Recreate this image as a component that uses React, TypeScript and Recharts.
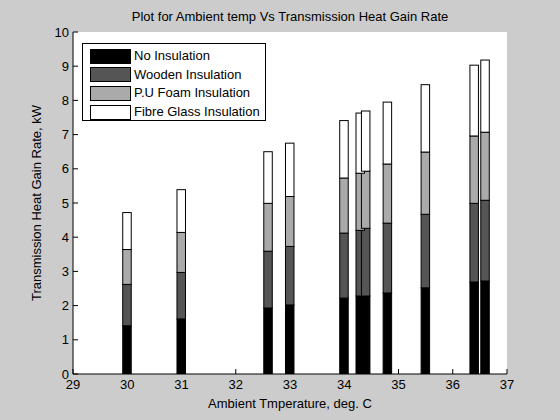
import React from "react"
import { BarChart, Bar, XAxis, YAxis, Label, CartesianGrid } from "recharts"

// ambient temperature, deg C
const temps = [30, 31, 32.6, 33, 34, 34.3, 34.4, 34.8, 35.5, 36.4, 36.6]

// heat gain rate per layer, kW (stacked)
const noInsulation = [1.41, 1.61, 1.93, 2.02, 2.22, 2.28, 2.28, 2.37, 2.52, 2.69, 2.72]
const wooden = [1.21, 1.36, 1.66, 1.71, 1.9, 1.92, 1.98, 2.04, 2.15, 2.3, 2.36]
const puFoam = [1.02, 1.17, 1.4, 1.46, 1.61, 1.67, 1.67, 1.73, 1.82, 1.97, 1.99]
const fibreGlass = [1.08, 1.25, 1.51, 1.56, 1.68, 1.76, 1.76, 1.81, 1.97, 2.07, 2.11]

const xTicks = [29, 30, 31, 32, 33, 34, 35, 36, 37]
const yTicks = [0, 1, 2, 3, 4, 5, 6, 7, 8, 9, 10]

const series = [
  { key: "No Insulation", fill: "#000000", values: noInsulation },
  { key: "Wooden Insulation", fill: "#555555", values: wooden },
  { key: "P.U Foam Insulation", fill: "#aaaaaa", values: puFoam },
  { key: "Fibre Glass Insulation", fill: "#ffffff", values: fibreGlass },
]

const data = temps.map((t, i) => {
  const row: any = { temp: t }
  series.forEach((s) => (row[s.key] = s.values[i]))
  return row
})

const FONT = "'Liberation Sans', Arial, sans-serif"
const FS = 13
const BAR_W = 8.5

// keep bars their real width even where two temps sit closer than a bar
const BarShape = (props: any) => {
  const { x, y, width, height, fill } = props
  if (height == null || height <= 0) return null
  const cx = x + width / 2
  return <rect x={cx - BAR_W / 2} y={y} width={BAR_W} height={height} fill={fill} stroke="#000" strokeWidth={1} />
}

const LegendBox = () => (
  <div
    style={{
      position: "absolute",
      top: 43,
      left: 82,
      width: 184,
      height: 78,
      boxSizing: "border-box",
      border: "1px solid #000",
      background: "#fff",
      padding: "3px 0 0 7px",
      fontFamily: FONT,
      fontSize: FS,
      color: "#000",
      lineHeight: "18.6px",
    }}
  >
    {series.map((s) => (
      <div key={s.key} style={{ display: "flex", alignItems: "center", height: 18.6 }}>
        <span
          style={{
            display: "inline-block",
            width: 41,
            height: 15,
            boxSizing: "border-box",
            background: s.fill,
            border: "1px solid #000",
            marginRight: 3,
          }}
        />
        {s.key}
      </div>
    ))}
  </div>
)

export default function App() {
  return (
    <div style={{ width: 560, height: 420, background: "#cccccc", position: "relative" }}>
      <style>{`body{margin:0}`}</style>
      <div
        style={{
          position: "absolute",
          top: 9,
          left: 73,
          width: 434,
          textAlign: "center",
          fontFamily: FONT,
          fontSize: FS,
          color: "#000",
        }}
      >
        Plot for Ambient temp Vs Transmission Heat Gain Rate
      </div>
      <BarChart
        width={560}
        height={420}
        data={data}
        margin={{ top: 32, right: 53, left: 0, bottom: 0 }}
        barGap={0}
        style={{ fontFamily: FONT }}
      >
        <CartesianGrid fill="#ffffff" horizontal={false} vertical={false} />
        <XAxis
          dataKey="temp"
          type="number"
          domain={[29, 37]}
          ticks={xTicks}
          allowDataOverflow
          height={46}
          tickSize={-5}
          tickMargin={11}
          tick={{ fill: "#000", fontSize: FS }}
          axisLine={{ stroke: "#000" }}
          tickLine={{ stroke: "#000" }}
        >
          <Label value="Ambient Tmperature, deg. C" position="insideBottom" offset={12} fill="#000" fontSize={FS} />
        </XAxis>
        <XAxis
          xAxisId="top"
          orientation="top"
          dataKey="temp"
          type="number"
          domain={[29, 37]}
          ticks={xTicks}
          allowDataOverflow
          height={0}
          tickSize={-5}
          tick={false}
          axisLine={{ stroke: "#000" }}
          tickLine={{ stroke: "#000" }}
        />
        <YAxis
          type="number"
          domain={[0, 10]}
          ticks={yTicks}
          allowDataOverflow
          width={73}
          tickSize={-5}
          tickMargin={9}
          tick={{ fill: "#000", fontSize: FS }}
          axisLine={{ stroke: "#000" }}
          tickLine={{ stroke: "#000" }}
        >
          <Label
            value="Transmission Heat Gain Rate, kW"
            angle={-90}
            position="insideLeft"
            offset={36}
            style={{ textAnchor: "middle" }}
            fill="#000"
            fontSize={FS}
          />
        </YAxis>
        <YAxis
          yAxisId="right"
          orientation="right"
          type="number"
          domain={[0, 10]}
          ticks={yTicks}
          allowDataOverflow
          width={0}
          tickSize={-5}
          tick={false}
          axisLine={{ stroke: "#000" }}
          tickLine={{ stroke: "#000" }}
        />
        {series.map((s) => (
          <Bar
            key={s.key}
            dataKey={s.key}
            stackId="heat"
            fill={s.fill}
            barSize={BAR_W}
            shape={BarShape}
            isAnimationActive={false}
          />
        ))}
      </BarChart>
      <LegendBox />
    </div>
  )
}
